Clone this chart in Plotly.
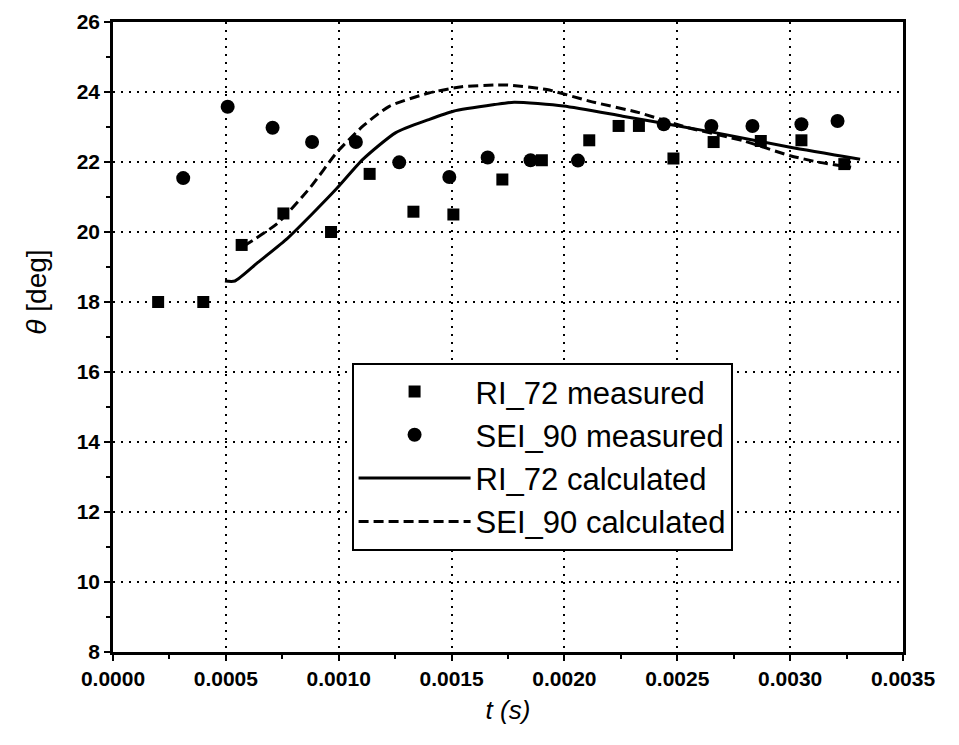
import plotly.graph_objects as go

# RI_72 measured
ri_t = [0.00020, 0.00040, 0.00057, 0.000755, 0.000966, 0.001137, 0.001331, 0.001508, 0.001725,
        0.00190, 0.00211, 0.00224, 0.00233, 0.002483, 0.002661, 0.00287, 0.00305, 0.00324]
ri_y = [18.0, 18.0, 19.63, 20.53, 20.0, 21.66, 20.58, 20.5, 21.5,
        22.05, 22.62, 23.03, 23.03, 22.1, 22.57, 22.6, 22.62, 21.94]

# SEI_90 measured
sei_t = [0.000311, 0.000508, 0.000707, 0.000882, 0.001076, 0.001268, 0.00149, 0.00166,
         0.00185, 0.00206, 0.00244, 0.002651, 0.002833, 0.00305, 0.00321]
sei_y = [21.54, 23.58, 22.98, 22.57, 22.57, 21.99, 21.57, 22.13,
         22.05, 22.04, 23.08, 23.03, 23.03, 23.08, 23.17]

# RI_72 calculated
ric_t = [0.000496, 0.00054, 0.000642, 0.000773, 0.00088, 0.000991, 0.001108, 0.001253, 0.001399,
         0.001508, 0.00169, 0.001777, 0.001996, 0.002258, 0.002505, 0.002708, 0.0030, 0.00331]
ric_y = [18.6, 18.6, 19.13, 19.82, 20.5, 21.24, 22.08, 22.84, 23.21,
         23.45, 23.64, 23.71, 23.6, 23.31, 23.03, 22.79, 22.42, 22.08]

# SEI_90 calculated
seic_t = [0.00058, 0.000729, 0.000875, 0.000991, 0.001108, 0.001224, 0.001399, 0.001545, 0.00169,
          0.001748, 0.001922, 0.00211, 0.00233, 0.002548, 0.002795, 0.0030, 0.00313, 0.00327]
seic_y = [19.6, 20.25, 21.28, 22.27, 23.03, 23.59, 23.97, 24.15, 24.2,
          24.2, 24.07, 23.74, 23.41, 22.98, 22.6, 22.18, 21.99, 21.85]

x_ticks = [0.0, 0.0005, 0.0010, 0.0015, 0.0020, 0.0025, 0.0030, 0.0035]
x_labels = ["0.0000", "0.0005", "0.0010", "0.0015", "0.0020", "0.0025", "0.0030", "0.0035"]
y_ticks = [8, 10, 12, 14, 16, 18, 20, 22, 24, 26]

FONT = "Liberation Sans, Arial, sans-serif"

fig = go.Figure()
fig.add_trace(go.Scatter(x=ri_t, y=ri_y, mode="markers", name="RI_72 measured",
                         marker=dict(symbol="square", size=12, color="black")))
fig.add_trace(go.Scatter(x=sei_t, y=sei_y, mode="markers", name="SEI_90 measured",
                         marker=dict(symbol="circle", size=14, color="black")))
fig.add_trace(go.Scatter(x=ric_t, y=ric_y, mode="lines", name="RI_72 calculated",
                         line=dict(color="black", width=3, shape="spline", smoothing=0.6)))
fig.add_trace(go.Scatter(x=seic_t, y=seic_y, mode="lines", name="SEI_90 calculated",
                         line=dict(color="black", width=3, dash="10px,5px", shape="spline", smoothing=0.6)))

axis_common = dict(
    showline=True, linecolor="black", linewidth=2.5, mirror=True,
    ticks="outside", ticklen=6, tickwidth=1.5, tickcolor="black",
    showgrid=True, gridcolor="black", griddash="2px,6px", gridwidth=2,
    zeroline=False, automargin=False,
    tickfont=dict(family=FONT, size=21, color="black", weight="bold"),
)

fig.update_xaxes(
    range=[0, 0.0035], tickvals=x_ticks, ticktext=x_labels,
    minor=dict(ticks="outside", ticklen=4, tickcolor="black", dtick=0.00025, showgrid=False),
    title=dict(text="<i>t (s)</i>", font=dict(family=FONT, size=26, color="black"), standoff=12),
    **axis_common,
)
fig.update_yaxes(
    range=[8, 26], tickvals=y_ticks,
    minor=dict(ticks="outside", ticklen=4, tickcolor="black", dtick=1, showgrid=False),
    **axis_common,
)

fig.add_annotation(
    text="<i>θ</i> [deg]", textangle=-90, showarrow=False,
    xref="paper", yref="paper", x=-0.097, y=0.571, xanchor="center", yanchor="middle",
    font=dict(family=FONT, size=28, color="black"),
)

fig.update_layout(
    width=959, height=745,
    margin=dict(l=105, r=64, t=14, b=101),
    paper_bgcolor="white", plot_bgcolor="white",
    showlegend=True,
    legend=dict(
        x=0.302, y=0.459, xanchor="left", yanchor="top",
        bgcolor="white", bordercolor="black", borderwidth=2,
        font=dict(family=FONT, size=31, color="black"),
        itemwidth=112, tracegroupgap=0,
    ),
)

fig.write_html("out.html")
